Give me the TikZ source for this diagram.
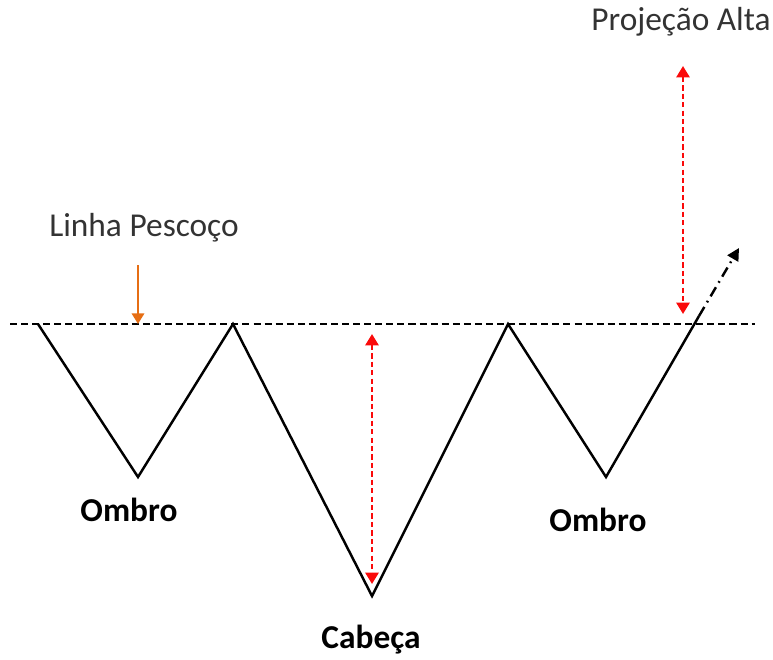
\documentclass[tikz,border=0pt]{standalone}
\usepackage{fontspec}
\setmainfont{Carlito}
\usetikzlibrary{arrows.meta,positioning}
\definecolor{pescoco}{RGB}{230,110,20}
\definecolor{projred}{RGB}{250,10,10}

\begin{document}
\begin{tikzpicture}[x=0.02cm, y=-0.02cm,
    price/.style={line width=1.4pt, line join=miter},
    neck/.style={dashed, dash pattern=on 4pt off 2.3pt, line width=0.7pt},
    measure/.style={projred, line width=1.4pt, dash pattern=on 3pt off 1.8pt,
        {Triangle[width=7.5pt,length=6.5pt]}-{Triangle[width=7.5pt,length=6.5pt]}},
    lbl/.style={font=\fontsize{19}{22}\selectfont, text=black!80},
    bold lbl/.style={font=\fontsize{19}{22}\selectfont\bfseries}]
    \useasboundingbox (0,0) rectangle (773,659);

    % Neckline
    \coordinate (neckL) at (10,324);
    \coordinate (neckR) at (755,324);
    \draw[neck] (neckL) -- (neckR);

    % Price path
    \coordinate (p0) at (38,324);
    \coordinate (sh1) at (138,477);
    \coordinate (p1) at (233,324);
    \coordinate (head) at (372,596);
    \coordinate (p2) at (508,324);
    \coordinate (sh2) at (606,477);
    \coordinate (brk) at (699,316);
    \coordinate (tgt) at (739,248);
    \draw[price] (p0) -- (sh1) -- (p1) -- (head) -- (p2) -- (sh2) -- (brk);
    \draw[line width=1.4pt, dash pattern=on 6pt off 3pt on 1pt off 3pt,
        -{Triangle[width=7pt,length=7pt]}] (brk) -- (tgt);

    % Labels
    \node[lbl] (proj) at (681,22) {Projeção Alta};
    \node[lbl] (linha) at (144,228) {Linha Pescoço};
    \node[bold lbl] (ombroL) at (129,510) {Ombro};
    \node[bold lbl] (ombroR) at (598,520) {Ombro};
    \node[bold lbl] (cabeca) at (371,640) {Cabeça};

    % Arrows
    \coordinate (neckArrowTop) at (138,265);
    \coordinate (neckArrowTip) at (138,324);
    \draw[pescoco, line width=1.2pt, -{Triangle[width=7pt,length=6pt]}] (neckArrowTop) -- (neckArrowTip);

    \coordinate (headTop) at (372,334);
    \coordinate (headBot) at (372,584);
    \draw[measure] (headTop) -- (headBot);

    \coordinate (projTop) at (683,66);
    \coordinate (projBot) at (683,314);
    \draw[measure] (projTop) -- (projBot);
\end{tikzpicture}
\end{document}
